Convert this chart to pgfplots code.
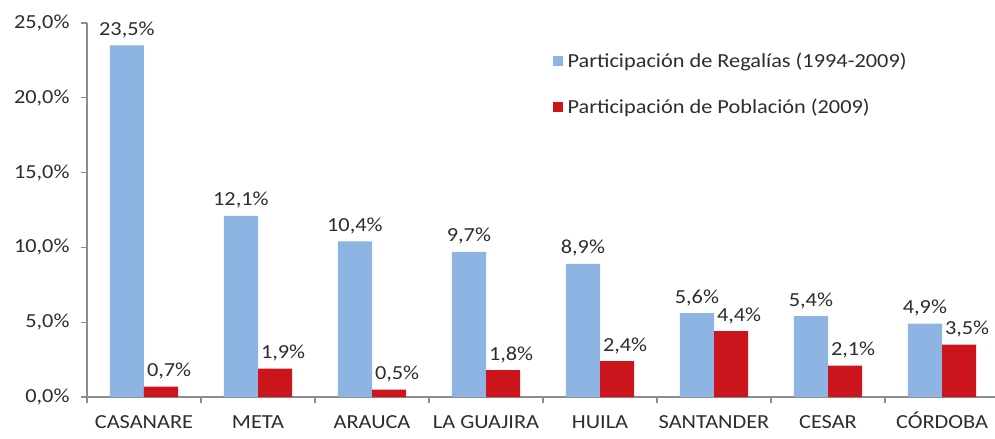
\documentclass[border=0pt]{standalone}
\usepackage{pgfplots}
\pgfplotsset{compat=1.18}
\usepackage{fontspec}
\setmainfont{Carlito}[FakeStretch=1.12]
\definecolor{barblue}{RGB}{141,180,226}
\definecolor{barred}{RGB}{204,20,28}
\definecolor{axisgray}{RGB}{140,140,140}
\definecolor{textgray}{RGB}{45,45,45}
\newcommand\fs{\fontsize{20}{24}\selectfont}
\begin{document}
\begin{tikzpicture}
\useasboundingbox (-87bp,-42bp) rectangle (908bp,397bp);
\begin{axis}[
  at={(0,0)}, anchor=south west,
  scale only axis, width=912bp, height=374bp,
  xmin=-0.5, xmax=7.5, ymin=0, ymax=25,
  clip=false,
  axis x line*=bottom, axis y line*=left,
  axis line style={draw=axisgray, line width=1.2bp},
  every tick/.style={draw=axisgray, line width=1.2bp},
  major tick length=6bp, tick align=outside,
  /pgf/number format/assume math mode=true,
  xtick={-0.5,0.5,...,7.5},
  x tick label as interval,
  xticklabels={CASANARE,META,ARAUCA,LA GUAJIRA,HUILA,SANTANDER,CESAR,CÓRDOBA},
  xticklabel style={font=\fs, text=textgray, yshift=-9bp, text height=13bp, text depth=3bp},
  ytick={0,5,...,25},
  yticklabel={\pgfmathprintnumber[fixed,fixed zerofill,precision=1,use comma]{\tick}\%},
  yticklabel style={font=\fs, text=textgray, xshift=-8bp},
  ybar=0pt, bar width=0.3,
  nodes near coords={\pgfmathprintnumber[fixed,fixed zerofill,precision=1,use comma]{\pgfplotspointmeta}\%},
  every node near coord/.append style={font=\fs, text=textgray, yshift=4bp},
  legend style={draw=none, fill=none, at={(0.507,0.93)}, anchor=north west,
    font=\fs, text=textgray, row sep=26bp},
  legend cell align=left,
]
\addplot[fill=barblue, draw=none, bar shift=-0.15,
  legend image code/.code={\fill[barblue] (0bp,-5bp) rectangle (10bp,5bp); \path (13bp,0bp);}]
  coordinates {(0,23.5) (1,12.1) (2,10.4) (3,9.7) (4,8.9) (5,5.6) (6,5.4) (7,4.9)};
\addlegendentry{Participación de Regalías (1994-2009)}
\addplot[fill=barred, draw=none, bar shift=0.15,
  every node near coord/.append style={xshift=8bp},
  legend image code/.code={\fill[barred] (0bp,-5bp) rectangle (10bp,5bp); \path (13bp,0bp);}]
  coordinates {(0,0.7) (1,1.9) (2,0.5) (3,1.8) (4,2.4) (5,4.4) (6,2.1) (7,3.5)};
\addlegendentry{Participación de Población (2009)}
\end{axis}
\end{tikzpicture}
\end{document}
